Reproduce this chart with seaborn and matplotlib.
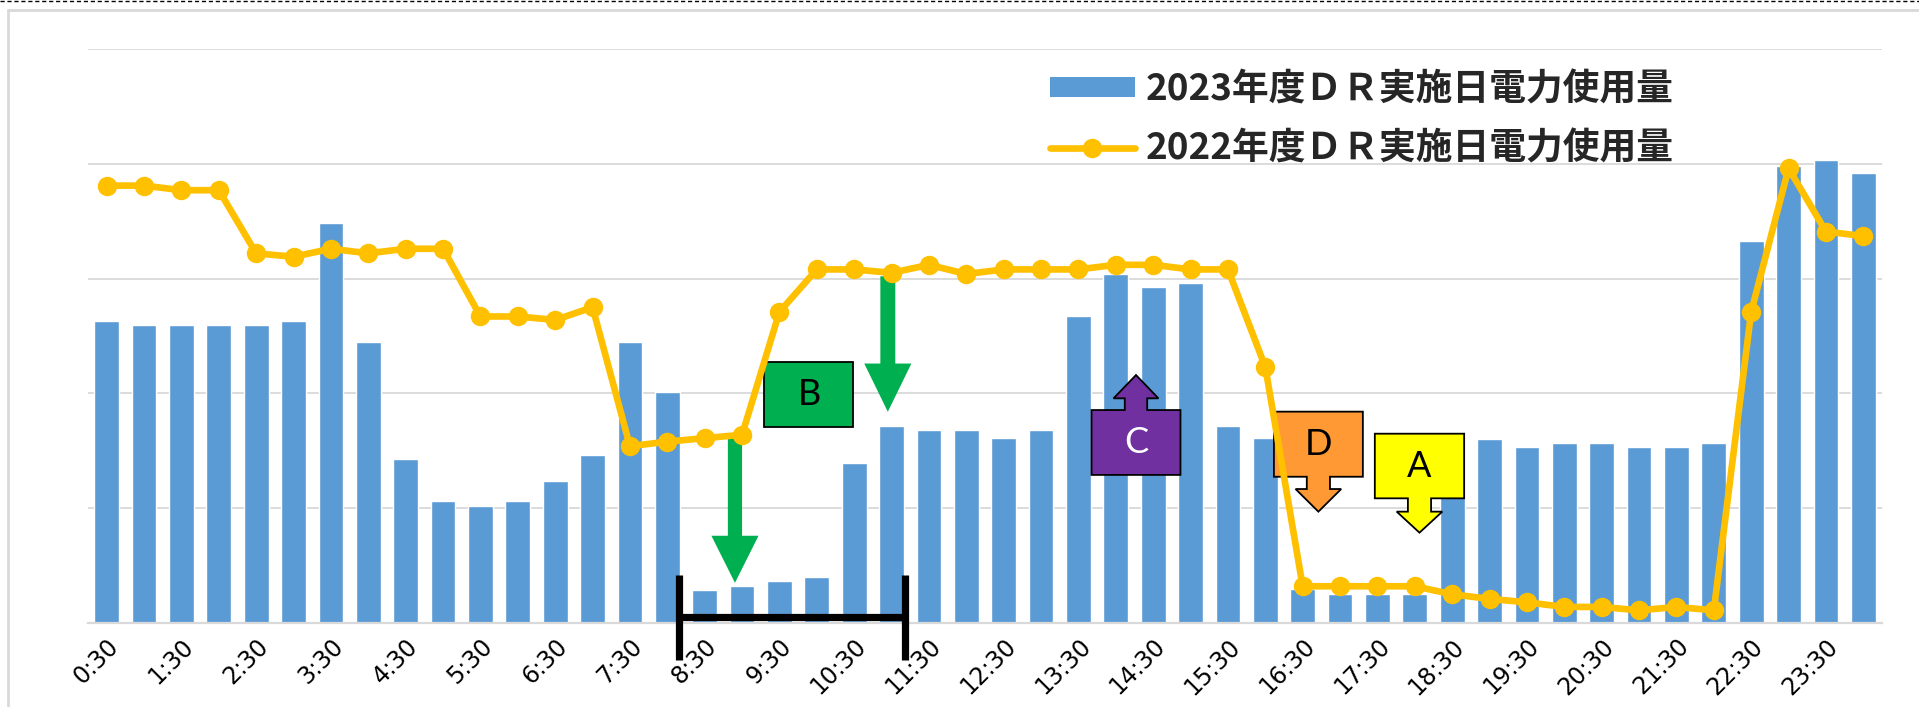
import numpy as np
import matplotlib
matplotlib.use("Agg")
import matplotlib.pyplot as plt
import seaborn as sns
from matplotlib.patches import Polygon, Patch
from matplotlib.lines import Line2D

# ---------------- data ----------------
times = ["0:30", "1:00", "1:30", "2:00", "2:30", "3:00", "3:30", "4:00",
         "4:30", "5:00", "5:30", "6:00", "6:30", "7:00", "7:30", "8:00",
         "8:30", "9:00", "9:30", "10:00", "10:30", "11:00", "11:30", "12:00",
         "12:30", "13:00", "13:30", "14:00", "14:30", "15:00", "15:30", "16:00",
         "16:30", "17:00", "17:30", "18:00", "18:30", "19:00", "19:30", "20:00",
         "20:30", "21:00", "21:30", "22:00", "22:30", "23:00", "23:30", "24:00"]

usage_2023 = [2.63, 2.60, 2.60, 2.60, 2.60, 2.63, 3.48, 2.45,
              1.43, 1.06, 1.02, 1.06, 1.24, 1.46, 2.45, 2.01,
              0.29, 0.32, 0.37, 0.40, 1.39, 1.72, 1.68, 1.68,
              1.61, 1.68, 2.67, 3.04, 2.93, 2.96, 1.72, 1.61,
              0.30, 0.25, 0.25, 0.25, 1.65, 1.60, 1.53, 1.57,
              1.57, 1.53, 1.53, 1.57, 3.33, 3.98, 4.03, 3.92]

usage_2022 = [3.81, 3.81, 3.77, 3.77, 3.22, 3.19, 3.26, 3.22,
              3.26, 3.26, 2.67, 2.67, 2.64, 2.75, 1.54, 1.58,
              1.61, 1.64, 2.71, 3.08, 3.08, 3.05, 3.12, 3.04,
              3.08, 3.08, 3.08, 3.12, 3.12, 3.08, 3.08, 2.23,
              0.32, 0.32, 0.32, 0.32, 0.25, 0.21, 0.18, 0.14,
              0.14, 0.11, 0.14, 0.11, 2.71, 3.96, 3.41, 3.37]

label_2023 = "2023年度ＤＲ実施日電力使用量"
label_2022 = "2022年度ＤＲ実施日電力使用量"

# callout labels
callout_letters = ["B", "C", "D", "A"]

BAR_COLOR = "#5B9BD5"
LINE_COLOR = "#FFC000"
GRID_COLOR = "#D9D9D9"
GREEN = "#00B050"

# ---------------- figure ----------------
sns.set_theme(style="white")
plt.rcParams["font.family"] = ["Noto Sans CJK JP", "DejaVu Sans"]

W, H = 1919, 707
fig = plt.figure(figsize=(W / 100, H / 100), dpi=100)
fig.patch.set_facecolor("white")
ax = fig.add_axes([88 / W, (H - 623) / H, (1882 - 88) / W, (623 - 49) / H])
ax.set_facecolor("white")

sns.barplot(x=times, y=usage_2023, color=BAR_COLOR, saturation=1,
            width=0.66, ax=ax, zorder=2)
sns.lineplot(x=np.arange(len(times)), y=usage_2022, color=LINE_COLOR,
             linewidth=4.8, marker="o", markersize=14, markeredgewidth=0,
             ax=ax, zorder=6)

ax.set_xlim(-0.5, len(times) - 0.5)
ax.set_ylim(0, 5)
ax.set_yticks(range(0, 6))
ax.set_yticklabels([])
ax.yaxis.grid(True, color=GRID_COLOR, linewidth=1.3)
ax.xaxis.grid(False)
ax.set_axisbelow(True)
for s in ["top", "right", "left"]:
    ax.spines[s].set_visible(False)
ax.spines["bottom"].set_color(GRID_COLOR)
ax.spines["bottom"].set_linewidth(1.6)
ax.set_xlabel("")
ax.set_ylabel("")

tick_pos = list(range(0, len(times), 2))
ax.set_xticks(tick_pos)
ax.set_xticklabels([times[i] for i in tick_pos], rotation=45, ha="right",
                   va="top", rotation_mode="anchor", fontsize=17,
                   family=["DejaVu Sans"], color="black")
ax.tick_params(axis="x", length=0, pad=8)
ax.tick_params(axis="y", length=0)

# ---------------- annotations ----------------
def down_arrow(cx, y_top, y_tip, head_len, shaft_hw, head_hw, color, z=3.5):
    hb = y_tip + head_len
    pts = [(cx - shaft_hw, y_top), (cx + shaft_hw, y_top), (cx + shaft_hw, hb),
           (cx + head_hw, hb), (cx, y_tip), (cx - head_hw, hb),
           (cx - shaft_hw, hb)]
    ax.add_patch(Polygon(pts, closed=True, facecolor=color, edgecolor="none",
                         zorder=z))

down_arrow(16.81, 1.65, 0.35, 0.41, 0.19, 0.63, GREEN)
down_arrow(20.90, 3.02, 1.84, 0.42, 0.20, 0.63, GREEN)

LETTER_FONT = dict(fontsize=26, family=["Lato", "DejaVu Sans"],
                   fontweight="normal")

def callout(x0, x1, y0, y1, tip, head_base, shaft_hw, head_hw, color,
            letter, text_color, up):
    cx = (x0 + x1) / 2
    if up:
        pts = [(x0, y0), (x1, y0), (x1, y1), (cx + shaft_hw, y1),
               (cx + shaft_hw, head_base), (cx + head_hw, head_base),
               (cx, tip), (cx - head_hw, head_base), (cx - shaft_hw, head_base),
               (cx - shaft_hw, y1), (x0, y1)]
    else:
        pts = [(x0, y1), (x1, y1), (x1, y0), (cx + shaft_hw, y0),
               (cx + shaft_hw, head_base), (cx + head_hw, head_base),
               (cx, tip), (cx - head_hw, head_base), (cx - shaft_hw, head_base),
               (cx - shaft_hw, y0), (x0, y0)]
    ax.add_patch(Polygon(pts, closed=True, facecolor=color, edgecolor="black",
                         linewidth=1.3, joinstyle="miter", zorder=4))
    ax.text(cx, (y0 + y1) / 2, letter, ha="center", va="center",
            color=text_color, zorder=4.5, **LETTER_FONT)

# B : plain box
ax.add_patch(Polygon([(17.60, 1.705), (19.98, 1.705), (19.98, 2.27), (17.60, 2.27)],
                     closed=True, facecolor=GREEN, edgecolor="black",
                     linewidth=1.3, zorder=4))
ax.text((17.60 + 19.98) / 2, (1.705 + 2.27) / 2, callout_letters[0],
        ha="center", va="center", color="black", zorder=4.5, **LETTER_FONT)

callout(26.35, 28.73, 1.29, 1.855, 2.16, 1.957, 0.30, 0.60, "#7030A0",
        callout_letters[1], "white", up=True)
callout(31.23, 33.61, 1.274, 1.841, 0.97, 1.167, 0.31, 0.61, "#FF9933",
        callout_letters[2], "black", up=False)
callout(33.93, 36.32, 1.086, 1.649, 0.787, 0.97, 0.31, 0.61, "#FFFF00",
        callout_letters[3], "black", up=False)

# black bracket marking the DR period
for xb in (15.30, 21.36):
    ax.add_line(Line2D([xb, xb], [0.418, -0.322], color="black", linewidth=5.2,
                       solid_capstyle="butt", clip_on=False, zorder=7))
ax.add_line(Line2D([15.30, 21.36], [0.052, 0.052], color="black", linewidth=5.2,
                   solid_capstyle="butt", clip_on=False, zorder=7))

# ---------------- legend ----------------
handles = [Patch(facecolor=BAR_COLOR, edgecolor="none"),
           Line2D([], [], color=LINE_COLOR, linewidth=4.8, marker="o",
                  markersize=14, markeredgewidth=0)]
leg = ax.legend(handles, [label_2023, label_2022], loc="upper left",
                bbox_to_anchor=(1050 / W, 1 - 71 / H),
                bbox_transform=fig.transFigure, frameon=False,
                prop={"family": ["Noto Sans CJK JP"], "weight": "bold", "size": 26.5},
                handlelength=2.3, handleheight=0.45, handletextpad=0.3,
                labelspacing=0.6, borderpad=0, borderaxespad=0)
leg.set_zorder(10)

# ---------------- outer frame ----------------
fig.add_artist(Line2D([7.5 / W, 7.5 / W], [0, 1 - 10 / H], transform=fig.transFigure,
                      color=GRID_COLOR, linewidth=2))
fig.add_artist(Line2D([7.5 / W, 1], [1 - 10 / H, 1 - 10 / H], transform=fig.transFigure,
                      color=GRID_COLOR, linewidth=2))
fig.add_artist(Line2D([0, 1], [1 - 0.8 / H, 1 - 0.8 / H], transform=fig.transFigure,
                      color="black", linewidth=1.0, linestyle=(0, (3, 2))))

fig.savefig("out.png", dpi=100, facecolor="white")
